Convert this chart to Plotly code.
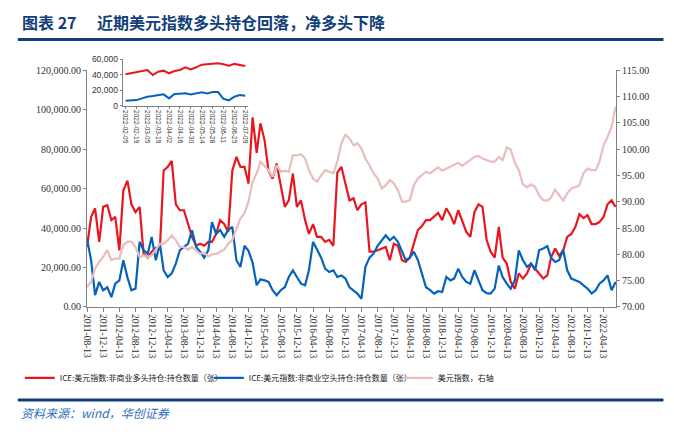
import plotly.graph_objs as go

# monthly points, 2011-08 .. 2022-07
dates = [f"{2011 + (7 + i) // 12}-{(7 + i) % 12 + 1:02d}-13" for i in range(132)]

# ICE 美元指数 非商业多头持仓 (张)
long_pos = [30400, 45600, 50000, 33000, 50700, 51500, 44000, 45600, 28700, 59000,
            64000, 52000, 48000, 50700, 27000, 25000, 28000, 30000, 30000, 69000,
            71000, 74000, 52000, 49000, 49000, 42000, 35500, 31000, 32000, 31000,
            33000, 33000, 37000, 44000, 42000, 38000, 69000, 76000, 71000, 71000,
            62500, 96000, 78000, 93000, 84500, 69000, 65000, 72700, 61000, 50700,
            54000, 67600, 50700, 54000, 44000, 37000, 42000, 35500, 35500, 33000,
            34000, 31000, 68000, 71000, 62500, 54000, 55000, 49000, 52000, 53000,
            28000, 28000, 28700, 29600, 30400, 23700, 32000, 31000, 23700, 22800,
            25000, 32000, 39000, 41000, 44000, 44000, 46000, 47600, 44000, 50000,
            46500, 42000, 49000, 44000, 38000, 35500, 48000, 52000, 50700, 34000,
            28000, 25000, 40600, 25000, 22000, 12700, 9300, 17000, 14400, 17000,
            22000, 19400, 17000, 14400, 16000, 25000, 29600, 26000, 28700, 35500,
            37000, 40600, 47000, 45000, 46500, 42000, 42000, 43000, 45600, 52000,
            54000, 50700]

# ICE 美元指数 非商业空头持仓 (张)
short_pos = [34600, 23700, 6000, 12700, 8500, 10000, 5000, 11800, 13500, 23700,
             15000, 8500, 9300, 33000, 28700, 27000, 35500, 23700, 32000, 18600,
             15200, 17000, 22000, 28700, 30400, 32000, 38900, 30400, 28000, 25000,
             28700, 43000, 37000, 39000, 35500, 39000, 40600, 23700, 20300, 31000,
             28500, 22500, 11000, 14000, 13500, 12700, 8500, 6000, 8500, 10000,
             15200, 18600, 15200, 11800, 11000, 18600, 33000, 28700, 25000, 19400,
             17700, 18600, 15200, 16000, 14400, 10000, 8500, 6800, 4200, 20300,
             25000, 27000, 31000, 33800, 36300, 33800, 35500, 33000, 28000, 23700,
             25000, 28000, 23700, 17000, 10000, 8500, 6800, 8000, 7600, 15200,
             13500, 14400, 19400, 15200, 12700, 11800, 18600, 13500, 8500, 7000,
             6800, 9300, 21000, 15200, 11800, 9300, 13500, 28700, 23700, 20300,
             22000, 18600, 28700, 29600, 30800, 25000, 22800, 23700, 29000, 18600,
             14400, 13500, 12700, 11000, 9300, 6800, 8500, 11800, 13500, 16000,
             8500, 12700]

# 美元指数 (右轴)
dxy = [73.8, 74.8, 77.3, 78.6, 79.5, 80.8, 78.9, 79.2, 79.2, 81.7,
       82.4, 82.4, 81.4, 79.5, 79.8, 79.5, 79.8, 80.8, 82.0, 82.0,
       82.7, 83.6, 82.7, 81.4, 81.4, 80.9, 81.4, 80.7, 80.1, 80.3,
       79.6, 80.0, 80.1, 80.5, 80.9, 82.0, 82.7, 84.9, 86.8, 87.8,
       90.0, 93.8, 95.4, 97.6, 96.8, 96.0, 94.7, 96.9, 95.7, 95.9,
       95.7, 98.8, 98.8, 99.0, 98.2, 96.0, 94.4, 93.8, 95.0, 96.0,
       95.7, 95.4, 97.6, 101.1, 102.7, 102.0, 100.7, 101.1, 100.1, 98.2,
       96.9, 95.4, 94.4, 92.5, 93.1, 94.1, 93.5, 92.2, 90.0, 90.0,
       90.3, 93.1, 94.4, 95.0, 95.7, 95.4, 95.9, 96.5, 95.9, 96.3,
       96.6, 97.1, 97.4, 96.8, 97.4, 98.0, 98.5, 98.7, 98.2, 97.9,
       97.6, 97.6, 98.5, 97.9, 100.3, 99.9, 97.4, 96.0, 93.3, 92.7,
       93.3, 92.8, 91.2, 90.3, 90.2, 90.8, 92.3, 91.2, 90.2, 91.6,
       92.5, 92.8, 93.1, 95.4, 96.3, 96.0, 96.0, 97.6, 100.7, 102.3,
       104.2, 108.0]

# inset: weekly, 2022-02-05 .. 2022-07-09
inset_dates = ["2022-02-05", "2022-02-12", "2022-02-19", "2022-02-26", "2022-03-05",
               "2022-03-12", "2022-03-19", "2022-03-26", "2022-04-02", "2022-04-09",
               "2022-04-16", "2022-04-23", "2022-04-30", "2022-05-07", "2022-05-14",
               "2022-05-21", "2022-05-28", "2022-06-04", "2022-06-11", "2022-06-18",
               "2022-06-25", "2022-07-02", "2022-07-09"]
inset_long = [40600, 41900, 43600, 44000, 46000, 39700, 44000, 45300, 41900, 44900,
              46200, 49600, 47000, 49600, 53000, 53500, 54000, 54800, 53500, 51800,
              54000, 52700, 51400]
inset_short = [6500, 7300, 7300, 9500, 11700, 12500, 13800, 14700, 9500, 15100,
               15500, 16000, 14700, 16000, 17300, 16000, 17700, 17700, 9000, 6900,
               11700, 13800, 13000]

RED = "#E8161F"
BLUE = "#0563BE"
PINK = "#E8BDBC"
NAVY = "#123F7A"
SERIF = "Liberation Serif, Noto Sans CJK SC"
CJK = "Noto Sans CJK SC"

data = [
    go.Scatter(x=dates, y=long_pos, mode="lines", name="ICE:美元指数:非商业多头持仓:持仓数量（张）",
               line=dict(color=RED, width=2.2)),
    go.Scatter(x=dates, y=short_pos, mode="lines", name="ICE:美元指数:非商业空头持仓:持仓数量（张）",
               line=dict(color=BLUE, width=2.2)),
    go.Scatter(x=dates, y=dxy, mode="lines", name="美元指数，右轴", yaxis="y2",
               line=dict(color=PINK, width=2.2)),
    go.Scatter(x=inset_dates, y=inset_long, mode="lines", xaxis="x2", yaxis="y3",
               showlegend=False, line=dict(color=RED, width=2)),
    go.Scatter(x=inset_dates, y=inset_short, mode="lines", xaxis="x2", yaxis="y3",
               showlegend=False, line=dict(color=BLUE, width=2)),
]

axis_common = dict(showline=True, linecolor="#808080", linewidth=1, ticks="outside",
                   tickcolor="#808080", showgrid=False, zeroline=False, automargin=False)

# the page body adds 8px on the left/top, so the figure is 8px smaller
layout = go.Layout(
    width=666, height=429,
    margin=dict(l=73, r=58, t=42, b=130),
    paper_bgcolor="white", plot_bgcolor="white",
    font=dict(family=SERIF, size=10, color="#333333"),
    xaxis=dict(axis_common, type="date", range=["2011-08-13", "2022-07-16"],
               tick0="2011-08-13", dtick="M4", tickformat="%Y-%m-%d", tickangle=90,
               ticklen=4, tickfont=dict(size=9.5)),
    yaxis=dict(axis_common, domain=[0, 0.922], range=[0, 120000], dtick=20000,
               tickformat=",.2f", ticklen=3),
    yaxis2=dict(axis_common, overlaying="y", side="right", range=[70, 115], dtick=5,
                tickformat=".2f", ticklen=3),
    xaxis2=dict(axis_common, domain=[0.0673, 0.3047], anchor="y3", type="date",
                range=["2022-02-01 04:00", "2022-07-12 20:00"], tick0="2022-02-05",
                dtick=14 * 86400000, tickformat="%Y-%m-%d", tickangle=90, ticklen=2,
                tickfont=dict(family="Liberation Sans", size=6.5)),
    yaxis3=dict(axis_common, domain=[0.783, 0.964], anchor="x2", range=[0, 60000],
                dtick=20000, tickformat=",", ticklen=2,
                tickfont=dict(family="Liberation Sans", size=8.5)),
    legend=dict(orientation="h", x=-0.127, xanchor="left", y=-0.276, yanchor="middle",
                font=dict(family=CJK, size=8, color="#222222"),
                entrywidth=144, entrywidthmode="pixels", bgcolor="rgba(0,0,0,0)"),
    annotations=[
        dict(text="<b>图表 27</b>", xref="paper", yref="paper", x=-0.1271, y=1.109,
             xanchor="left", yanchor="middle", showarrow=False,
             font=dict(family=CJK, size=16, color=NAVY)),
        dict(text="<b>近期美元指数多头持仓回落，净多头下降</b>", xref="paper", yref="paper",
             x=0.015, y=1.109, xanchor="left", yanchor="middle", showarrow=False,
             font=dict(family=CJK, size=16, color=NAVY)),
        dict(text="<i>资料来源：wind，华创证券</i>", xref="paper", yref="paper", x=-0.129,
             y=-0.412, xanchor="left", yanchor="middle", showarrow=False,
             font=dict(family=CJK, size=12, color="#2F6DB8")),
    ],
    shapes=[
        dict(type="line", xref="paper", yref="paper", x0=-0.1308, x1=1.0897,
             y0=1.041, y1=1.041, line=dict(color=NAVY, width=3)),
        dict(type="line", xref="paper", yref="paper", x0=-0.1308, x1=1.0897,
             y0=-0.362, y1=-0.362, line=dict(color=NAVY, width=3)),
    ],
)

fig = go.Figure(data=data, layout=layout)
fig.write_html("out.html")
